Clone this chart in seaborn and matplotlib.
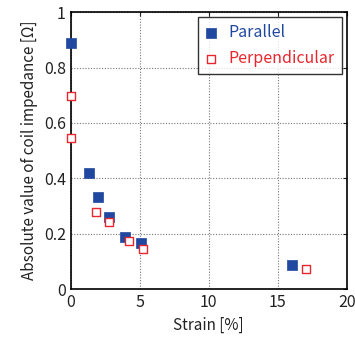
import matplotlib
matplotlib.use("Agg")
import matplotlib.pyplot as plt
import seaborn as sns
import pandas as pd

# data
par_strain = [0.0, 1.3, 2.0, 2.8, 3.9, 5.1, 16.0]
par_imp = [0.89, 0.42, 0.334, 0.262, 0.19, 0.166, 0.088]
perp_strain = [0.0, 0.05, 1.85, 2.75, 4.2, 5.25, 17.05]
perp_imp = [0.699, 0.547, 0.28, 0.242, 0.172, 0.144, 0.073]

df = pd.DataFrame({
    "strain": par_strain + perp_strain,
    "imp": par_imp + perp_imp,
    "dir": ["Parallel"] * len(par_strain) + ["Perpendicular"] * len(perp_strain),
})

sns.set_style("white")
plt.rcParams['font.family'] = ['Noto Sans CJK JP', 'DejaVu Sans']

blue = "#2148a0"
red = "#e8262e"

fig = plt.figure(figsize=(3.55, 3.37), dpi=100)
ax = fig.add_axes([0.199, 0.142, 0.778, 0.822])

sns.scatterplot(data=df[df.dir == "Parallel"], x="strain", y="imp", ax=ax,
                marker="s", s=52, color=blue, edgecolor=blue, linewidth=0.5,
                label="Parallel", clip_on=False, zorder=3)
sns.scatterplot(data=df[df.dir == "Perpendicular"], x="strain", y="imp", ax=ax,
                marker="s", s=40, facecolor="white", edgecolor=red, linewidth=1.0,
                label="Perpendicular", clip_on=False, zorder=4)

ax.set_xlim(0, 20)
ax.set_ylim(0, 1)
ax.set_xticks([0, 5, 10, 15, 20])
ax.set_yticks([0, 0.2, 0.4, 0.6, 0.8, 1])
ax.set_yticklabels(["0", "0.2", "0.4", "0.6", "0.8", "1"])
ax.grid(True, linestyle=(0, (1, 1.5)), color="#777777", linewidth=0.8)
ax.tick_params(direction="in", length=3, labelsize=11.5, colors="#222222",
               top=True, right=True)
for sp in ax.spines.values():
    sp.set_color("black")
    sp.set_linewidth(1.2)
ax.set_xlabel("Strain [%]", fontsize=11, color="#222222")
ax.set_ylabel("Absolute value of coil impedance [Ω]", fontsize=11, color="#222222")

leg = ax.legend(loc="upper right", fontsize=11.5, frameon=True, fancybox=False,
                edgecolor="black", handlelength=0.8, handletextpad=0.7,
                borderaxespad=0.3, labelspacing=0.55, borderpad=0.45,
                markerscale=0.9)
leg.get_frame().set_linewidth(1.0)
leg.texts[0].set_color(blue)
leg.texts[1].set_color(red)

fig.savefig("out.png", dpi=100)
